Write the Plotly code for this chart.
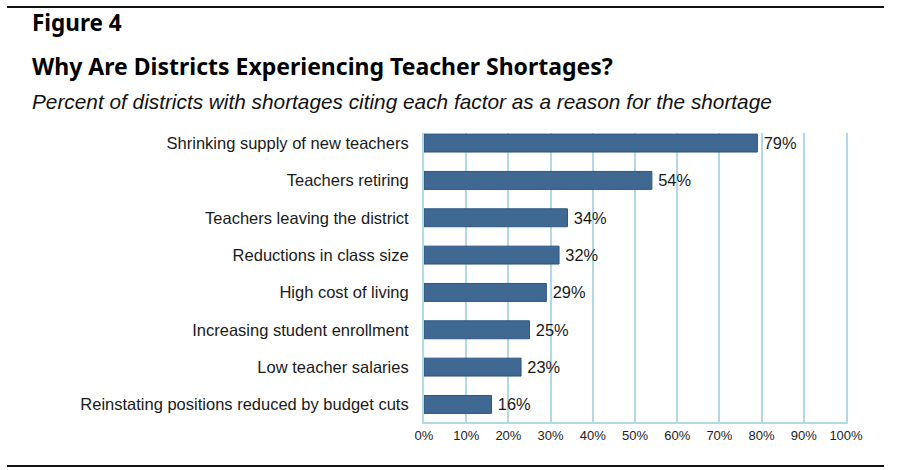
import plotly.graph_objects as go

reasons = [
    "Shrinking supply of new teachers",
    "Teachers retiring",
    "Teachers leaving the district",
    "Reductions in class size",
    "High cost of living",
    "Increasing student enrollment",
    "Low teacher salaries",
    "Reinstating positions reduced by budget cuts",
]
percent = [79, 54, 34, 32, 29, 25, 23, 16]
tick_vals = [0, 10, 20, 30, 40, 50, 60, 70, 80, 90, 100]
tick_text = [str(v) + "%" for v in tick_vals]

W, H = 900, 470
L, R, T, B = 424, 54, 133, 48
pw, ph = W - L - R, H - T - B
grid_col = "#b3d8e6"

# pixel -> paper coords
def px(x):
    return (x - L) / pw

def py(y):
    return (H - B - y) / ph

fig = go.Figure()
fig.add_trace(go.Bar(
    x=percent,
    y=reasons,
    orientation="h",
    marker=dict(color="#3f6893", line=dict(color="#2d5781", width=1)),
    text=["\u2009" + str(v) + "%" for v in percent],
    textposition="outside",
    textfont=dict(family="Liberation Sans, Arial", size=16.5, color="#1a1a1a"),
    cliponaxis=False,
    width=0.48,
))

fig.update_layout(
    width=W, height=H,
    margin=dict(l=L, r=R, t=T, b=B),
    plot_bgcolor="white",
    paper_bgcolor="white",
    showlegend=False,
    xaxis=dict(
        range=[0, 100],
        tickvals=tick_vals,
        ticktext=tick_text,
        showgrid=True,
        gridcolor=grid_col,
        gridwidth=2,
        zeroline=False,
        showline=True,
        linecolor=grid_col,
        linewidth=2,
        tickfont=dict(family="Liberation Sans, Arial", size=13, color="#222"),
        ticks="",
        fixedrange=True,
    ),
    yaxis=dict(
        range=[7.47, -0.27],
        tickfont=dict(family="Liberation Sans, Arial", size=16.5, color="#1a1a1a"),
        ticks="outside",
        ticklen=10,
        tickcolor="white",
        showgrid=False,
        showline=True,
        mirror=True,
        linecolor=grid_col,
        linewidth=2,
        fixedrange=True,
    ),
    annotations=[
        dict(text="<b>Figure 4</b>", x=px(30), y=py(22), xref="paper", yref="paper",
             xanchor="left", yanchor="middle", showarrow=False,
             font=dict(family="Noto Sans", size=22.5, color="#000")),
        dict(text="<b>Why Are Districts Experiencing Teacher Shortages?</b>", x=px(30), y=py(66),
             xref="paper", yref="paper", xanchor="left", yanchor="middle", showarrow=False,
             font=dict(family="Noto Sans", size=23, color="#000")),
        dict(text="<i>Percent of districts with shortages citing each factor as a reason for the shortage</i>",
             x=px(30), y=py(101), xref="paper", yref="paper", xanchor="left", yanchor="middle",
             showarrow=False, font=dict(family="Liberation Sans, Arial", size=20.8, color="#111")),
    ],
    shapes=[
        dict(type="line", xref="paper", yref="paper", x0=px(7), x1=px(884), y0=py(7), y1=py(7),
             line=dict(color="#111", width=2)),
        dict(type="line", xref="paper", yref="paper", x0=px(7), x1=px(884), y0=py(466), y1=py(466),
             line=dict(color="#111", width=2)),
    ],
)

fig.write_html("out.html", config={"displayModeBar": False},
               post_script="document.body.style.margin='0';")
